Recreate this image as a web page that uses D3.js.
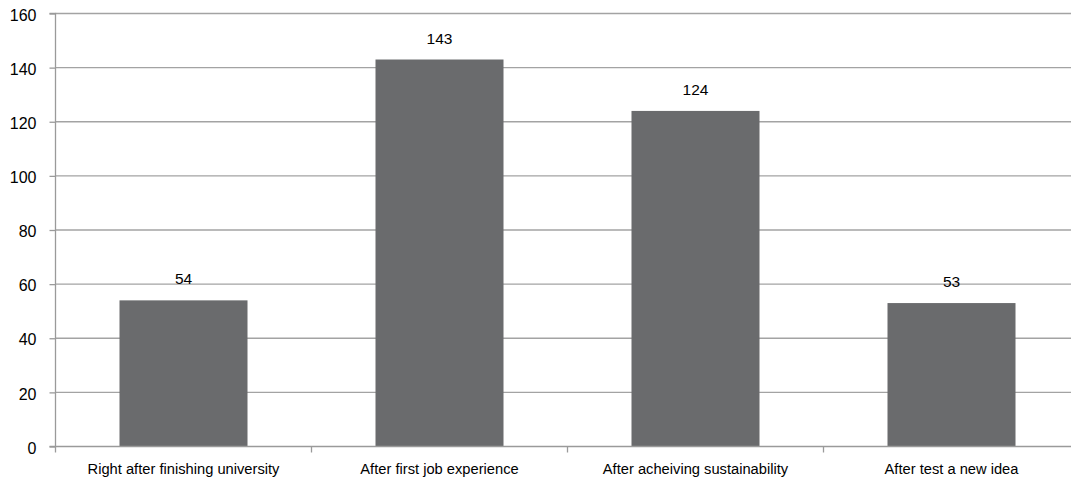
<!DOCTYPE html>
<html><head><meta charset="utf-8">
<script src="https://cdn.jsdelivr.net/npm/d3@7"></script>
<style>body{margin:0;background:#fff}svg{display:block}text{font-family:"Liberation Sans",Arial,sans-serif;fill:#000}</style>
</head><body><svg id="c" width="1071" height="478"></svg>
<script>
const categories = ["Right after finishing university","After first job experience","After acheiving sustainability","After test a new idea"];
const values = [54,143,124,53];
const yTicks = [0,20,40,60,80,100,120,140,160];

const svg = d3.select("#c");
const plotLeft = 55.5, plotTop = 13.5, plotBottom = 446.5;
const x = d3.scaleBand().domain(categories).range([plotLeft, plotLeft + 1024]).paddingInner(0.5).paddingOuter(0.25);
const y = d3.scaleLinear().domain([0,160]).range([plotBottom, plotTop]);

// gridlines
svg.append("g").selectAll("line").data(yTicks.slice(1)).join("line")
  .attr("x1", plotLeft).attr("x2", 1071).attr("y1", d=>y(d)).attr("y2", d=>y(d))
  .attr("stroke", "#a3a3a3").attr("stroke-width", 1.3);

// bars
svg.append("g").selectAll("rect").data(values).join("rect")
  .attr("x", (d,i)=>x(categories[i])).attr("width", x.bandwidth())
  .attr("y", d=>y(d)).attr("height", d=>plotBottom - y(d))
  .attr("fill", "#6a6b6d");

// value labels
svg.append("g").selectAll("text").data(values).join("text")
  .attr("x", (d,i)=>x(categories[i]) + x.bandwidth()/2).attr("y", d=>y(d) - 16)
  .attr("text-anchor","middle").attr("font-size", 15.5).text(d=>d);

// y axis
const ya = svg.append("g").attr("transform", `translate(${plotLeft},0)`)
  .call(d3.axisLeft(y).tickValues(yTicks).tickSize(6).tickPadding(13).tickFormat(d3.format("d")));
ya.select(".domain").attr("stroke","#9a9a9a").attr("stroke-width",1.3).attr("d", `M-6,${plotTop}H0V${plotBottom}H-6`);
ya.selectAll(".tick line").attr("stroke","#9a9a9a").attr("stroke-width",1.3);
ya.selectAll(".tick text").attr("font-size",16).attr("dy","0.42em").attr("font-family","Liberation Sans, Arial, sans-serif").attr("fill","#000");

// x axis
const xb = d3.scaleLinear().domain([0,4]).range([plotLeft, plotLeft+1024]);
const xg = svg.append("g");
xg.append("line").attr("x1", plotLeft).attr("x2", 1071).attr("y1", plotBottom).attr("y2", plotBottom).attr("stroke","#9a9a9a").attr("stroke-width",1.3);
xg.selectAll("line.t").data([0,1,2,3]).join("line").attr("class","t")
  .attr("x1", d=>xb(d)).attr("x2", d=>xb(d)).attr("y1", plotBottom).attr("y2", plotBottom+6)
  .attr("stroke","#9a9a9a").attr("stroke-width",1.3);
xg.selectAll("text").data(categories).join("text")
  .attr("x", d=>x(d)+x.bandwidth()/2).attr("y", 473.5)
  .attr("text-anchor","middle").attr("font-size",14.7).text(d=>d);
</script></body></html>
